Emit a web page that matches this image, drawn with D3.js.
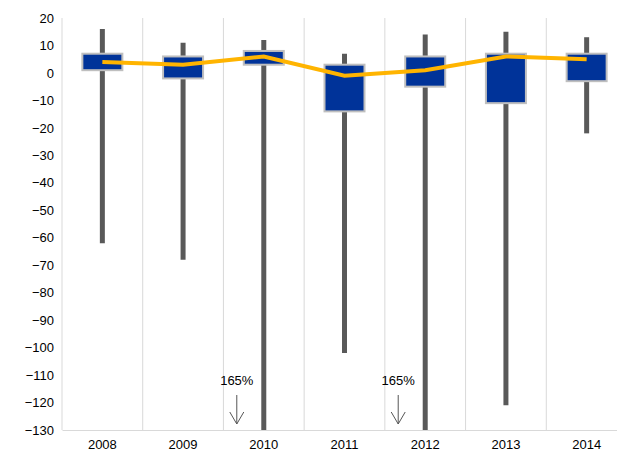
<!DOCTYPE html>
<html>
<head>
<meta charset="utf-8">
<script src="https://cdnjs.cloudflare.com/ajax/libs/d3/7.8.5/d3.min.js"></script>
<style>
body { margin: 0; font-family: Arial, "Liberation Sans", sans-serif; background: #fff; }
</style>
</head>
<body>
<svg id="chart" width="617" height="455"></svg>
<script>
var years = ["2008", "2009", "2010", "2011", "2012", "2013", "2014"];
var whiskerHigh = [16, 11, 12, 7, 14, 15, 13];
var whiskerLow = [-62, -68, -165, -102, -165, -121, -22];
var boxHigh = [7, 6, 8, 3, 6, 7, 7];
var boxLow = [1, -2, 3, -14, -5, -11, -3];
var median = [4, 3, 6, -1, 1, 6, 5];
var yTicks = d3.range(20, -131, -10);
var notes = [{ year: "2010", text: "165%" }, { year: "2012", text: "165%" }];

var svg = d3.select("#chart");
var mLeft = 62, mRight = 627, mTop = 18, mBottom = 430;

var x = d3.scaleBand().domain(years).range([mLeft, mRight]);
var y = d3.scaleLinear().domain([-130, 20]).range([mBottom, mTop]);

// vertical gridlines between categories
svg.selectAll(".grid").data(years.concat(["end"])).enter().append("line")
  .attr("x1", function (d, i) { return mLeft + i * x.bandwidth(); })
  .attr("x2", function (d, i) { return mLeft + i * x.bandwidth(); })
  .attr("y1", mTop).attr("y2", mBottom)
  .attr("stroke", "#d9d9d9").attr("stroke-width", 1);

var yAxis = svg.append("g").attr("transform", "translate(" + mLeft + ",0)")
  .call(d3.axisLeft(y).tickValues(yTicks).tickSize(0).tickPadding(8));
yAxis.select(".domain").remove();
yAxis.selectAll("text").attr("font-size", 13).attr("fill", "#000");

var xAxis = svg.append("g").attr("transform", "translate(0," + mBottom + ")")
  .call(d3.axisBottom(x).tickSize(0).tickPadding(10));
xAxis.select(".domain").attr("stroke", "#d9d9d9");
xAxis.selectAll("text").attr("font-size", 13).attr("fill", "#000");

var cx = function (d) { return x(d) + x.bandwidth() / 2; };
var clip = function (v) { return y(Math.max(v, -130)); };

svg.selectAll(".whisker").data(years).enter().append("line")
  .attr("x1", cx).attr("x2", cx)
  .attr("y1", function (d, i) { return y(whiskerHigh[i]); })
  .attr("y2", function (d, i) { return clip(whiskerLow[i]); })
  .attr("stroke", "#595959").attr("stroke-width", 5);

svg.selectAll(".box").data(years).enter().append("rect")
  .attr("x", function (d) { return cx(d) - 20; })
  .attr("width", 40)
  .attr("y", function (d, i) { return y(boxHigh[i]); })
  .attr("height", function (d, i) { return y(boxLow[i]) - y(boxHigh[i]); })
  .attr("fill", "#003399").attr("stroke", "#bfbfbf").attr("stroke-width", 2);

svg.append("path")
  .datum(years)
  .attr("fill", "none").attr("stroke", "#ffb400").attr("stroke-width", 4)
  .attr("d", d3.line().x(cx).y(function (d, i) { return y(median[i]); }));

notes.forEach(function (n) {
  var nx = cx(n.year) - 27;
  svg.append("text").attr("x", nx).attr("y", 385).attr("text-anchor", "middle")
    .attr("font-size", 13).text(n.text);
  svg.append("path")
    .attr("d", "M" + nx + ",395 L" + nx + ",424 M" + (nx - 7) + ",412 L" + nx + ",424 L" + (nx + 7) + ",412")
    .attr("fill", "none").attr("stroke", "#555").attr("stroke-width", 1);
});
</script>
</body>
</html>
